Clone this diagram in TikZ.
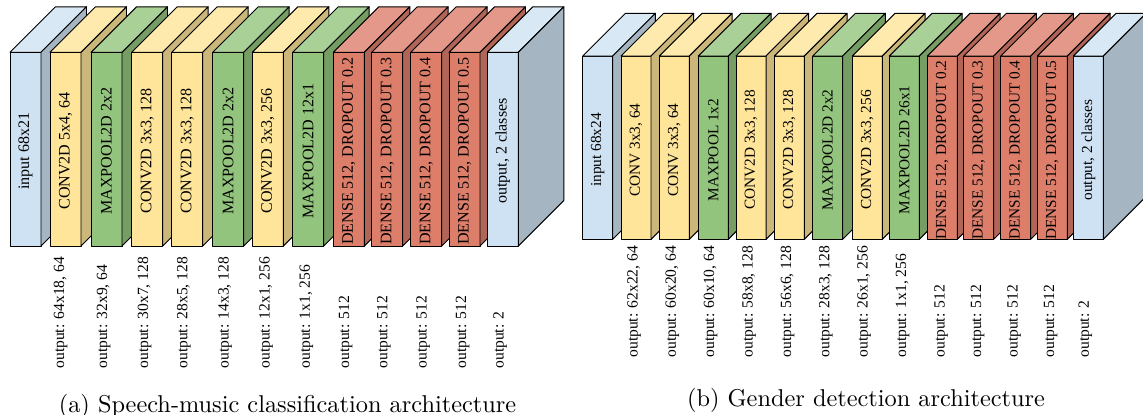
\documentclass[tikz,border=0pt]{standalone}
\usepackage{fontspec}
\newfontfamily\layerfont{Liberation Serif}
\usetikzlibrary{calc}
\definecolor{inblue}{HTML}{CFE2F3}
\definecolor{convyel}{HTML}{FFE599}
\definecolor{poolgrn}{HTML}{93C47D}
\definecolor{densered}{HTML}{DD7E6B}
\tikzset{
  face/.style={draw=black,line width=0.4pt,line join=round},
  layer/.style={rotate=90,inner sep=0pt,font=\layerfont\fontsize{6.6}{7}\selectfont},
  layerb/.style={layer,font=\layerfont\fontsize{6.3}{7}\selectfont},
  outlabel/.style={rotate=90,anchor=west,inner sep=0pt,font=\layerfont\fontsize{6.4}{7}\selectfont}
}

\begin{document}
\begin{tikzpicture}[x=0.411pt,y=0.411pt]
  \clip (0,0) rectangle (1143,-414);
  % (a) speech-music network
  \foreach \x/\c/\txt [count=\i] in {10/inblue/{input 68x21},
      50/convyel/{CONV2D 5x4, 64}, 91/poolgrn/{MAXPOOL2D 2x2},
      131.7/convyel/{CONV2D 3x3, 128}, 171.7/convyel/{CONV2D 3x3, 128},
      212.7/poolgrn/{MAXPOOL2D 2x2}, 252.3/convyel/{CONV2D 3x3, 256},
      292.7/poolgrn/{MAXPOOL2D 12x1}, 333.3/densered/{DENSE 512, DROPOUT 0.2},
      371.7/densered/{DENSE 512, DROPOUT 0.3}, 410.7/densered/{DENSE 512, DROPOUT 0.4},
      449/densered/{DENSE 512, DROPOUT 0.5}, 487.3/inblue/{output, 2 classes}}{
    \filldraw[face,fill=\c] (\x,-52.3) rectangle (\x+31,-246);
    \filldraw[face,fill=\c!80!white] (\x,-52.3) -- (\x+45.5,-6.8) -- (\x+76.5,-6.8) -- (\x+31,-52.3) -- cycle;
    \filldraw[face,fill=\c!80!black] (\x+31,-52.3) -- (\x+76.5,-6.8) -- (\x+76.5,-200.5) -- (\x+31,-246) -- cycle;
    \node[layer] (a\i) at (\x+15.5,-151) {\txt};
  }
  \foreach \x/\txt [count=\i] in {60.7/{output: 64x18, 64}, 103.6/{output: 32x9, 64},
      144.6/{output: 30x7, 128}, 183.9/{output: 28x5, 128}, 225/{output: 14x3, 128},
      266/{output: 12x1, 256}, 306.4/{output: 1x1, 256}, 345.7/{output: 512},
      383.9/{output: 512}, 423.2/{output: 512}, 462.5/{output: 512}, 500/{output: 2}}{
    \node[outlabel] (oa\i) at (\x,-369) {\txt};
  }
  \node[anchor=base] (capa) at (287.5,-412) {(a) Speech-music classification architecture};

  % (b) gender network
  \foreach \x/\c/\txt [count=\i] in {582.7/inblue/{input 68x24},
      621/convyel/{CONV 3x3, 64}, 659.3/convyel/{CONV 3x3, 64},
      698.3/poolgrn/{MAXPOOL 1x2}, 736/convyel/{CONV2D 3x3, 128},
      774.3/convyel/{CONV2D 3x3, 128}, 812.7/poolgrn/{MAXPOOL2D 2x2},
      852.3/convyel/{CONV2D 3x3, 256}, 889.3/poolgrn/{MAXPOOL2D 26x1},
      927.3/densered/{DENSE 512, DROPOUT 0.2}, 963.7/densered/{DENSE 512, DROPOUT 0.3},
      1000.7/densered/{DENSE 512, DROPOUT 0.4}, 1037.3/densered/{DENSE 512, DROPOUT 0.5},
      1073.3/inblue/{output, 2 classes}}{
    \filldraw[face,fill=\c] (\x,-56) rectangle (\x+30,-239.3);
    \filldraw[face,fill=\c!80!white] (\x,-56) -- (\x+42.7,-13.3) -- (\x+72.7,-13.3) -- (\x+30,-56) -- cycle;
    \filldraw[face,fill=\c!80!black] (\x+30,-56) -- (\x+72.7,-13.3) -- (\x+72.7,-196.6) -- (\x+30,-239.3) -- cycle;
    \node[layerb] (b\i) at (\x+15,-150) {\txt};
  }
  \foreach \x/\txt [count=\i] in {634/{output: 62x22, 64}, 672.3/{output: 60x20, 64},
      710.7/{output: 60x10, 64}, 749.1/{output: 58x8, 128}, 787.5/{output: 56x6, 128},
      825.8/{output: 28x3, 128}, 864.2/{output: 26x1, 256}, 902.6/{output: 1x1, 256},
      941/{output: 512}, 977.5/{output: 512}, 1014/{output: 512}, 1050.6/{output: 512},
      1085.4/{output: 2}}{
    \node[outlabel] (ob\i) at (\x,-358) {\txt};
  }
  \node[anchor=base] (capb) at (866,-406) {(b) Gender detection architecture};
\end{tikzpicture}
\end{document}
